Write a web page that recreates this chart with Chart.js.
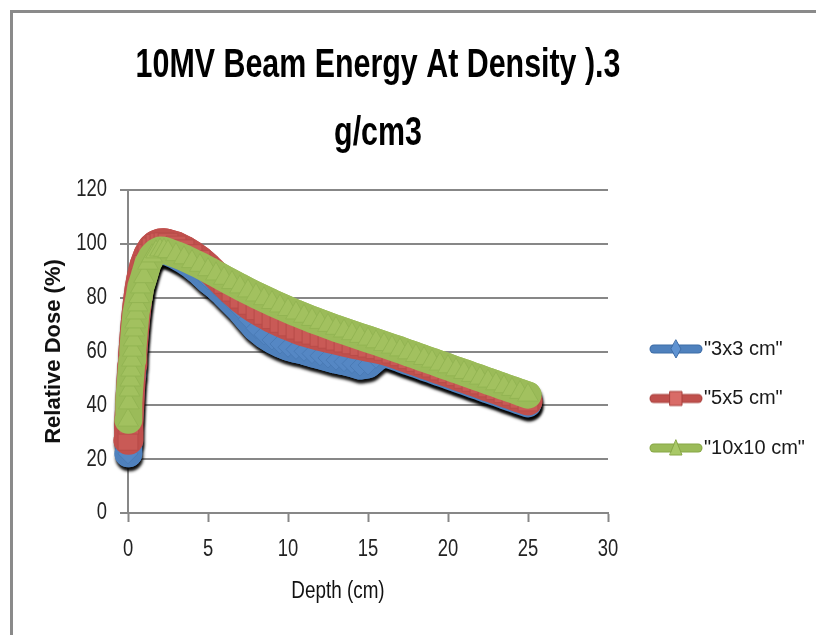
<!DOCTYPE html>
<html><head><meta charset="utf-8">
<script src="https://cdn.jsdelivr.net/npm/chart.js@4"></script>
<style>
html,body{margin:0;padding:0;background:#fff;overflow:hidden;}
#wrap{position:absolute;left:0;top:0;width:816px;height:635px;}
#frame{position:absolute;left:10px;top:10px;width:830px;height:650px;border-left:3px solid #8a8a8a;border-top:3px solid #8a8a8a;pointer-events:none;}
</style></head><body>
<div id="wrap"><canvas id="c" width="816" height="635"></canvas></div>
<div id="frame"></div>
<script>
// ---- data ----
const depths = [0,0.05,0.1,0.15,0.2,0.25,0.3,0.35,0.4,0.45,0.5,0.6,0.7,0.8,1.0,1.25,1.5,1.75,2.0,2.25,2.5,
  3.0,3.5,4.0,4.5,5.0,5.5,6.0,6.5,7.0,7.5,8.0,8.5,9.0,9.5,10.0,10.5,11.0,11.5,12.0,12.5,13.0,13.5,14.0,14.5,
  15.0,15.5,16.0,16.5,17.0,17.5,18.0,18.5,19.0,19.5,20.0,20.5,21.0,21.5,22.0,22.5,23.0,23.5,24.0,24.5,25.0];
const dose3x3 = [22,29,35,41,46,51,55.5,59.5,63.5,67,70.5,76,81,84.5,89.5,93.5,95.8,97,97.3,97.2,96.8,
  95.5,93.8,91.8,89.4,86.6,84.2,81.5,78.5,75.5,72,68.6,66.2,64.3,62.8,61.6,60.8,60.1,59.2,58.4,57.6,56.8,56.2,55.5,54.6,
  55.0,57.5,59.3,58.3,57.3,56.2,55.2,54.1,53.1,52.0,51.0,49.9,48.9,47.8,46.8,45.7,44.7,43.6,42.6,41.5,40.5];
const dose5x5 = [27,33,39,45,50,55,59,63,67,70.5,73.5,79,83.5,87,92,96,98.5,99.8,100.3,100.4,100.1,
  99.2,97.8,96.0,93.8,91.2,88.3,85.3,82.4,79.8,77.5,75.5,73.8,72.2,70.8,69.5,68.3,67.2,66.4,65.6,64.9,64.2,63.5,62.8,62.2,
  61.6,61.0,60.4,59.4,58.4,57.3,56.3,55.2,54.2,53.1,52.1,51.0,50.0,48.9,47.9,46.8,45.8,44.7,43.7,42.6,41.6];
const dose10x10 = [34.5,40.9,45.7,49.4,53.1,56.8,60.5,64.3,68,71,74.3,77.3,80.4,84,87.8,92.8,95.5,97,97.7,97.6,97.1,
  96.0,94.8,93.4,92.0,90.4,88.8,87.2,85.6,84.0,82.5,81.0,79.6,78.2,76.9,75.6,74.3,73.1,71.9,70.8,69.7,68.6,67.6,66.6,65.6,
  64.6,63.6,62.6,61.6,60.6,59.5,58.5,57.4,56.4,55.3,54.3,53.2,52.2,51.1,50.1,49.0,48.0,46.9,45.9,44.8,43.8];
const seriesNames = ['"3x3 cm"', '"5x5 cm"', '"10x10 cm"'];
const xTicks = [0, 5, 10, 15, 20, 25, 30];
const yTicks = [0, 20, 40, 60, 80, 100, 120];
const titleLines = ['10MV Beam Energy At Density ).3', 'g/cm3'];
const xTitle = 'Depth (cm)';
const yTitle = 'Relative Dose (%)';

// ---- styling ----
const SANS = '"Liberation Sans", Arial, sans-serif';
const GRID = '#878787';
const styles = [
  {line:'#4f81bd', fill:'#5587c4', edge:'#4a7bb6', lfill:'#5f93d2', ledge:'#3d6ca6', shape:'rectRot', r:10, w:27},
  {line:'#c0504d', fill:'#c95a56', edge:'#b84c49', lfill:'#d96b67', ledge:'#a8403d', shape:'rect', r:14, w:29},
  {line:'#9bbb59', fill:'#a2c15f', edge:'#93b553', lfill:'#a9c967', ledge:'#87a746', shape:'triangle', r:12, w:27}
];
const LEG_FS = 20, LEG_PAD = 29.5, LEG_BOX = 36;
const TITLE_SX = 0.76, TICK_SX = 0.8, XTITLE_SX = 0.82;

function withCondensed(ctx, sx, fn) {
  const base = CanvasRenderingContext2D.prototype.fillText;
  ctx.fillText = function (t, x, y, mw) {
    this.save(); this.translate(x, y); this.scale(sx, 1);
    if (mw === undefined || mw === null) base.call(this, t, 0, 0); else base.call(this, t, 0, 0, mw / sx);
    this.restore();
  };
  try { fn(); } finally { delete ctx.fillText; }
}

function legendImage(s) {
  const c = document.createElement('canvas');
  c.width = 54; c.height = 22;
  const g = c.getContext('2d');
  g.lineCap = 'round';
  g.strokeStyle = s.ledge; g.lineWidth = 9;
  g.beginPath(); g.moveTo(5, 11); g.lineTo(49, 11); g.stroke();
  g.strokeStyle = s.line; g.lineWidth = 7;
  g.beginPath(); g.moveTo(5, 11); g.lineTo(49, 11); g.stroke();
  g.fillStyle = s.lfill; g.strokeStyle = s.ledge; g.lineWidth = 1;
  g.beginPath();
  if (s.shape === 'rectRot') { g.moveTo(27,2); g.lineTo(32,11); g.lineTo(27,20); g.lineTo(22,11); g.closePath(); }
  else if (s.shape === 'rect') { g.rect(21,4,12,14); }
  else { g.moveTo(27,3); g.lineTo(33,18); g.lineTo(21,18); g.closePath(); }
  g.fill(); g.stroke();
  return c;
}

const mctx = document.createElement('canvas').getContext('2d');
mctx.font = LEG_FS + 'px ' + SANS;
const maxText = Math.max(...seriesNames.map(t => mctx.measureText(t).width));
const legendWidth = LEG_PAD + LEG_BOX + LEG_FS / 2 + maxText + 10;
const padRight = Math.max(0, 816 - 608 - legendWidth);

const series = [dose3x3, dose5x5, dose10x10];
const datasets = series.map((vals, k) => ({
  label: seriesNames[k],
  data: depths.map((d, i) => ({x: d, y: vals[i]})),
  borderColor: styles[k].line,
  borderWidth: styles[k].w,
  borderJoinStyle: 'round',
  borderCapStyle: 'round',
  pointStyle: styles[k].shape,
  pointRadius: styles[k].r,
  pointBackgroundColor: styles[k].fill,
  pointBorderColor: styles[k].edge,
  pointBorderWidth: 1,
  fill: false,
  clip: false,
  order: 3 - k
}));

const shadowPlugin = {
  id: 'bandShadow',
  beforeDatasetsDraw(chart) {
    const ctx = chart.ctx;
    const metas = chart.getSortedVisibleDatasetMetas();
    for (let i = metas.length - 1; i >= 0; i--) {
      ctx.save();
      ctx.shadowColor = 'rgba(0,0,0,0.95)';
      ctx.shadowOffsetX = 1;
      ctx.shadowOffsetY = 4;
      ctx.shadowBlur = 3;
      metas[i].dataset.draw(ctx, chart.chartArea);
      ctx.restore();
    }
  }
};

const layoutTweaks = {
  id: 'layoutTweaks',
  afterLayout(chart) {
    const tb = chart.titleBlock;
    if (tb) {
      tb.left = 378 - 400; tb.right = 378 + 400;
      if (!tb._wrapped) {
        const d = tb.draw;
        tb.draw = function (...a) { withCondensed(this.ctx, TITLE_SX, () => d.apply(this, a)); };
        tb._wrapped = true;
      }
    }
    const lg = chart.legend;
    if (lg) {
      const w = lg.width, h = lg.height;
      lg.left = 658 - LEG_PAD; lg.right = lg.left + w;
      lg.top = 339 - LEG_PAD; lg.bottom = lg.top + h;
    }
    const xs = chart.scales.x, ys = chart.scales.y;
    if (xs && !xs._wrapped) {
      const t = xs.drawTitle, l = xs.drawLabels;
      xs.drawTitle = function (...a) {
        this.ctx.save(); this.ctx.translate(-30, 0);
        withCondensed(this.ctx, XTITLE_SX, () => t.apply(this, a));
        this.ctx.restore();
      };
      xs.drawLabels = function (...a) { withCondensed(this.ctx, TICK_SX, () => l.apply(this, a)); };
      xs._wrapped = true;
    }
    if (ys && !ys._wrapped) {
      const l = ys.drawLabels;
      ys.drawLabels = function (...a) { withCondensed(this.ctx, TICK_SX, () => l.apply(this, a)); };
      ys._wrapped = true;
    }
  }
};

new Chart(document.getElementById('c'), {
  type: 'line',
  data: { datasets },
  plugins: [shadowPlugin, layoutTweaks],
  options: {
    responsive: false,
    animation: false,
    events: [],
    layout: { padding: { left: 0, right: padRight, top: 0, bottom: 0 } },
    plugins: {
      tooltip: { enabled: false },
      title: {
        display: true,
        text: titleLines,
        color: '#000',
        font: { family: SANS, size: 40, weight: 'bold', lineHeight: '68px' },
        padding: { top: 32, bottom: 22 }
      },
      legend: {
        display: true,
        position: 'right',
        align: 'start',
        labels: {
          usePointStyle: true,
          pointStyleWidth: LEG_BOX,
          padding: LEG_PAD,
          color: '#1a1a1a',
          font: { family: SANS, size: LEG_FS },
          generateLabels: (chart) => chart.data.datasets.map((ds, i) => ({
            text: ds.label,
            pointStyle: legendImage(styles[i]),
            fillStyle: styles[i].line,
            strokeStyle: styles[i].edge,
            lineWidth: 0,
            hidden: false,
            datasetIndex: i,
            fontColor: '#1a1a1a'
          }))
        }
      }
    },
    scales: {
      x: {
        type: 'linear',
        min: xTicks[0], max: xTicks[xTicks.length - 1],
        afterBuildTicks: (s) => { s.ticks = xTicks.map(v => ({value: v})); },
        afterFit: (s) => { s.height = 122; },
        grid: { drawOnChartArea: false, drawTicks: true, tickLength: 9, tickWidth: 2, tickColor: GRID, color: GRID },
        border: { display: true, color: GRID, width: 2 },
        ticks: { color: '#222', font: { family: SANS, size: 23 }, padding: 14.2, maxRotation: 0 },
        title: { display: true, text: xTitle, color: '#111', font: { family: SANS, size: 23 }, padding: { top: 0, bottom: 29.2 } }
      },
      y: {
        type: 'linear',
        min: yTicks[0], max: yTicks[yTicks.length - 1],
        afterBuildTicks: (s) => { s.ticks = yTicks.map(v => ({value: v})); },
        afterFit: (s) => { s.width = 128; },
        grid: { color: GRID, lineWidth: 2, drawTicks: true, tickLength: 8, tickWidth: 2, tickColor: GRID },
        border: { display: true, color: GRID, width: 2 },
        ticks: { color: '#222', font: { family: SANS, size: 23 }, padding: 13 },
        title: { display: true, text: yTitle, color: '#111', font: { family: SANS, size: 22, weight: 'bold' }, padding: { top: 40.8, bottom: 0 } }
      }
    }
  }
});
</script>
</body></html>
